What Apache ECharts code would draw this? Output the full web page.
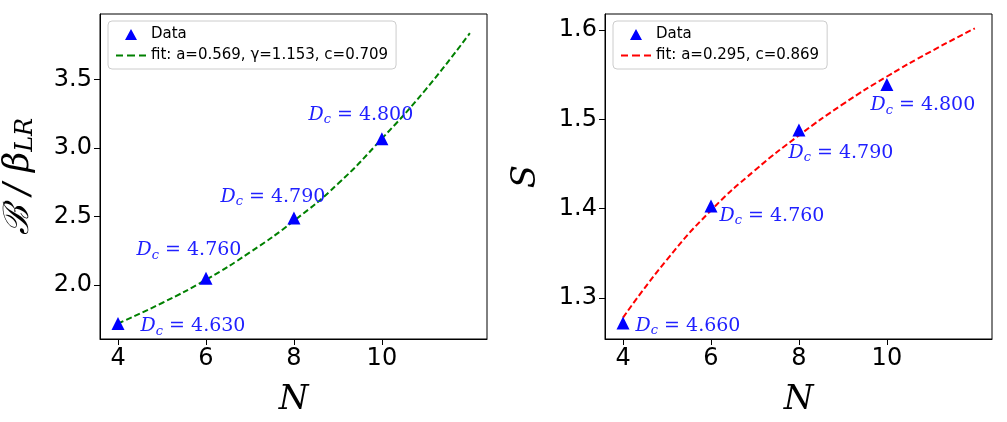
<!DOCTYPE html><html><head><meta charset="utf-8"><script src="https://cdn.jsdelivr.net/npm/echarts@6/dist/echarts.min.js"></script></head><body style="margin:0;background:#fff"><div id="c" style="width:1007px;height:422px"></div><script>
const N = [4, 6, 8, 10];
const leftData = [1.72, 2.05, 2.49, 3.07];
const leftDc = ['4.630', '4.760', '4.790', '4.800'];
const fitN = [4, 5, 6, 7, 8, 9, 10, 11, 12];
const leftFit = [1.72, 1.87, 2.04, 2.24, 2.47, 2.74, 3.07, 3.43, 3.84];
const rightData = [1.272, 1.403, 1.488, 1.539];
const rightDc = ['4.660', '4.760', '4.790', '4.800'];
const rightFit = [1.278, 1.343, 1.398, 1.443, 1.482, 1.517, 1.548, 1.576, 1.602];
const leftOff = [[29, -2], [-63, -33], [-67, -26], [-67, -29]];
const rightOff = [[19, -2], [15, 5], [-4, 18], [-10, 16]];
const lab = {fontFamily:'DejaVu Serif', fontStyle:'italic', fontSize:19, color:'#2020ff'};
function pts(d, dc, off){return N.map((n,i)=>({value:[n,d[i]],label:{show:true,position:off[i],formatter:'{a|D}{s|c}{b| = '+dc[i]+'}',rich:{a:lab,s:Object.assign({},lab,{fontSize:13,padding:[10,0,0,0]}),b:Object.assign({},lab,{fontStyle:'normal'})}}}));}
const tick = {fontSize:24, color:'#000', fontFamily:'DejaVu Sans'};
function xa(i){return {type:'value',gridIndex:i,min:3.59,max:12.39,interval:2,axisLabel:Object.assign({},tick,{customValues:[4,6,8,10]}),axisTick:{customValues:[4,6,8,10],length:6,lineStyle:{color:'#000'}},splitLine:{show:false},axisLine:{lineStyle:{color:'#000'}},name:'N',nameLocation:'middle',nameGap:44,nameTextStyle:{fontFamily:'DejaVu Serif',fontStyle:'italic',fontSize:34,color:'#000'}};}
const triIcon = 'path://M0,12 L30,12 L30,12.01 L0,12.01 Z M9,12 L15,1 L21,12 Z';
const lineIcon = 'path://M0,5 L7,5 L7,7 L0,7 Z M11,5 L19,5 L19,7 L11,7 Z M23,5 L30,5 L30,7 L23,7 Z M0,0 L0.01,0 L0.01,12 Z';
function leg(left, names){return {left:left,top:21,orient:'vertical',itemGap:6,itemWidth:30,itemHeight:12,padding:[6,8],backgroundColor:'#fff',borderColor:'#ccc',borderWidth:1,borderRadius:4,textStyle:{fontSize:15,fontFamily:'DejaVu Sans',color:'#000'},data:[{name:names[0],icon:triIcon},{name:names[1],icon:lineIcon}]};}
const c = echarts.init(document.getElementById('c'));
c.setOption({animation:false,
grid:[{left:100,top:14,width:387,height:326,show:true,borderColor:'#000',borderWidth:1},{left:605,top:14,width:387,height:326,show:true,borderColor:'#000',borderWidth:1}],
xAxis:[xa(0),xa(1)],
yAxis:[{type:'value',gridIndex:0,min:1.607,max:3.98,axisLabel:Object.assign({},tick,{customValues:[2,2.5,3,3.5],formatter:v=>v.toFixed(1)}),axisTick:{customValues:[2,2.5,3,3.5],length:6,lineStyle:{color:'#000'}},splitLine:{show:false},axisLine:{show:true,lineStyle:{color:'#000'}},name:'{a|ℬ / β}{s|LR}',nameLocation:'middle',nameGap:62,nameRotate:90,nameTextStyle:{rich:{a:{fontFamily:'DejaVu Serif',fontStyle:'italic',fontSize:35,color:'#000'},s:{fontFamily:'DejaVu Serif',fontStyle:'italic',fontSize:24,color:'#000',padding:[14,0,0,0]}}}},
{type:'value',gridIndex:1,min:1.254,max:1.618,axisLabel:Object.assign({},tick,{customValues:[1.3,1.4,1.5,1.6],formatter:v=>v.toFixed(1)}),axisTick:{customValues:[1.3,1.4,1.5,1.6],length:6,lineStyle:{color:'#000'}},splitLine:{show:false},axisLine:{show:true,lineStyle:{color:'#000'}},name:'S',nameLocation:'middle',nameGap:62,nameRotate:90,nameTextStyle:{fontFamily:'DejaVu Serif',fontStyle:'italic',fontSize:34,color:'#000'}}],
legend:[leg(108,['Data','fit: a=0.569, γ=1.153, c=0.709']),leg(613,['Data ','fit: a=0.295, c=0.869'])],
series:[
{name:'fit: a=0.569, γ=1.153, c=0.709',type:'line',xAxisIndex:0,yAxisIndex:0,smooth:true,symbol:'none',data:fitN.map((n,i)=>[n,leftFit[i]]),lineStyle:{color:'#008000',width:2,type:[6,3]},itemStyle:{color:'#008000'}},
{name:'Data',type:'scatter',xAxisIndex:0,yAxisIndex:0,symbol:'triangle',symbolSize:13,itemStyle:{color:'#0000ff',opacity:1},data:pts(leftData,leftDc,leftOff),z:5},
{name:'fit: a=0.295, c=0.869',type:'line',xAxisIndex:1,yAxisIndex:1,smooth:true,symbol:'none',data:fitN.map((n,i)=>[n,rightFit[i]]),lineStyle:{color:'#ff0000',width:2,type:[6,3]},itemStyle:{color:'#ff0000'}},
{name:'Data ',type:'scatter',xAxisIndex:1,yAxisIndex:1,symbol:'triangle',symbolSize:13,itemStyle:{color:'#0000ff',opacity:1},data:pts(rightData,rightDc,rightOff),z:5}
]});
</script></body></html>
